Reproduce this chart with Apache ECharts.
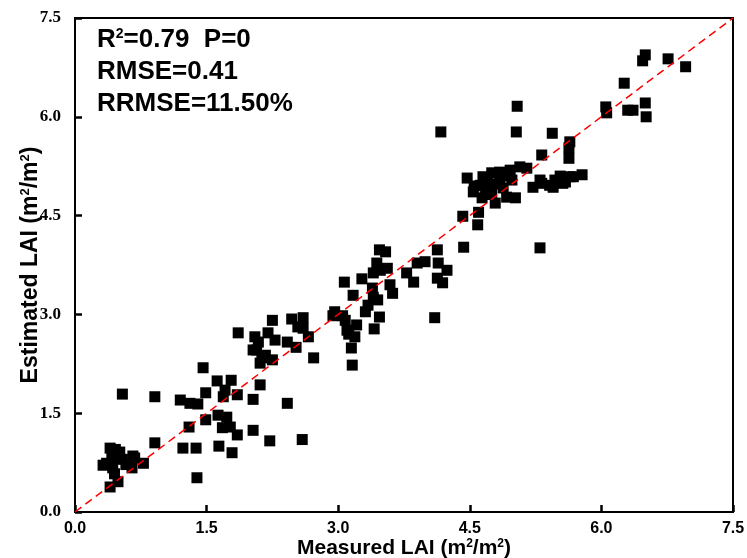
<!DOCTYPE html>
<html>
<head>
<meta charset="utf-8">
<script src="https://cdn.jsdelivr.net/npm/echarts@6/dist/echarts.min.js"></script>
<style>
html, body { margin: 0; padding: 0; background: #fff; }
#chart { width: 747px; height: 558px; }
</style>
</head>
<body>
<div id="chart"></div>
<script>
// measured vs estimated LAI
var measuredLAI = [
	0.40, 0.51, 0.36, 0.43, 0.66, 0.65, 0.78, 0.49, 0.40, 0.32, 0.42, 0.54, 0.68, 0.46, 0.58, 0.45,
	0.54, 0.91, 1.20, 1.31, 1.40, 1.49, 1.62, 1.78, 1.71, 1.69, 1.85, 2.11, 2.03, 2.42, 2.59,
	1.63, 1.73, 1.68, 1.77, 1.85, 1.49, 1.30, 0.91, 1.23, 1.38, 1.64, 1.79, 2.03, 2.22, 1.39,
	1.46, 1.86, 2.25, 2.47, 2.60, 2.54, 2.60, 2.66, 2.20, 2.28, 2.09, 2.07, 2.13, 2.17, 2.11,
	2.25, 2.42, 2.52, 2.72, 2.05, 2.03, 2.94, 3.08, 3.12, 3.15, 3.16, 2.96, 3.05, 3.21, 3.10,
	3.19, 3.47, 3.41, 3.07, 3.27, 3.17, 3.39, 3.40, 3.45, 3.34, 3.31, 3.59, 3.62, 3.44, 3.56,
	3.40, 3.48, 3.47, 3.54, 3.78, 3.86, 3.90, 3.99, 4.13, 4.14, 4.24, 4.13, 4.19, 4.10, 4.17,
	4.43, 5.30, 4.42, 4.59, 4.60, 4.47, 4.65, 4.75, 4.84, 4.96, 5.07, 5.15, 4.54, 4.62, 4.71,
	4.84, 4.98, 4.64, 4.79, 4.92, 5.02, 4.88, 5.22, 5.30, 5.41, 5.47, 5.59, 5.68, 5.78, 5.32,
	5.45, 5.56, 5.53, 5.64, 4.70, 4.80, 4.90, 4.68, 4.55, 4.75, 5.03, 5.04, 5.44, 5.64, 5.63,
	5.63, 5.32, 6.05, 6.06, 6.30, 6.36, 6.50, 6.51, 6.26, 6.50, 6.47, 6.76, 6.96
];
var estimatedLAI = [
	0.97, 0.91, 0.74, 0.67, 0.85, 0.67, 0.74, 0.46, 0.38, 0.71, 0.82, 0.80, 0.82, 0.95, 0.72, 0.58,
	1.79, 1.75, 1.70, 1.65, 1.64, 1.81, 1.99, 2.00, 1.85, 1.75, 1.78, 1.93, 1.71, 1.65, 1.10,
	1.47, 1.44, 1.28, 1.29, 1.17, 1.40, 1.29, 1.05, 0.97, 0.97, 1.00, 0.90, 1.24, 1.08, 0.52,
	2.19, 2.72, 2.91, 2.93, 2.95, 2.81, 2.79, 2.66, 2.72, 2.61, 2.58, 2.46, 2.34, 2.38, 2.26,
	2.31, 2.58, 2.50, 2.34, 2.66, 2.46, 2.98, 2.91, 2.70, 2.49, 2.23, 3.04, 2.98, 2.84, 2.76,
	2.66, 2.96, 2.78, 3.49, 3.54, 3.29, 3.40, 3.26, 3.22, 3.14, 3.04, 3.45, 3.32, 3.78, 3.70,
	3.63, 3.67, 3.98, 3.95, 3.63, 3.49, 3.78, 3.80, 3.98, 3.78, 3.67, 3.55, 3.48, 2.95, 5.77,
	4.02, 4.01, 4.49, 4.36, 4.55, 5.07, 5.09, 5.15, 5.16, 5.19, 5.24, 5.22, 4.86, 4.96, 4.93,
	5.04, 5.04, 4.77, 4.69, 4.78, 4.77, 4.92, 4.93, 5.04, 4.96, 5.04, 5.01, 5.09, 5.12, 4.99,
	4.93, 4.99, 5.10, 5.09, 5.05, 4.98, 5.10, 4.85, 4.95, 4.82, 5.77, 6.16, 5.75, 5.62, 5.53,
	5.37, 5.42, 6.15, 6.06, 6.10, 6.10, 6.21, 6.00, 6.51, 6.94, 6.85, 6.88, 6.76
];
var axisTicks = [0, 1.5, 3.0, 4.5, 6.0, 7.5];
var oneToOne = [[0, 0], [7.5, 7.5]];
var statLines = ['{a|R}{s|2}{a|=0.79  P=0}', '{a|RMSE=0.41}', '{a|RRMSE=11.50%}'];

var points = [];
for (var i = 0; i < measuredLAI.length; i++) {
	points.push([measuredLAI[i], estimatedLAI[i]]);
}

function nameRich(size) {
	return {
		a: { fontFamily: 'Liberation Sans, Arial', fontWeight: 'bold', fontSize: size, color: '#000' },
		s: { fontFamily: 'Liberation Sans, Arial', fontWeight: 'bold', fontSize: Math.round(size * 0.55), color: '#000', verticalAlign: 'top' }
	};
}

var myChart = echarts.init(document.getElementById('chart'));

var graphics = [];
for (var j = 0; j < statLines.length; j++) {
	graphics.push({
		type: 'text',
		left: 97,
		top: 27 + j * 32,
		style: {
			text: statLines[j],
			rich: {
				a: { fontFamily: 'Liberation Sans, Arial', fontWeight: 'bold', fontSize: 26, color: '#000' },
				s: { fontFamily: 'Liberation Sans, Arial', fontWeight: 'bold', fontSize: 14, color: '#000', verticalAlign: 'top' }
			}
		}
	});
}

var options = {
	backgroundColor: '#fff',
	animation: false,
	grid: {
		left: 75,
		right: 14,
		top: 18,
		bottom: 46,
		outerBoundsMode: 'none',
		show: true,
		borderColor: '#000',
		borderWidth: 2
	},
	xAxis: {
		type: 'value',
		min: axisTicks[0],
		max: axisTicks[axisTicks.length - 1],
		interval: 1.5,
		name: '{a|Measured LAI (m}{s|2}{a|/m}{s|2}{a|)}',
		nameLocation: 'middle',
		nameGap: 26,
		nameMoveOverlap: false,
		nameTextStyle: { rich: nameRich(21) },
		axisLine: { lineStyle: { color: '#000', width: 2 } },
		axisTick: { inside: true, length: 7, lineStyle: { color: '#000', width: 2.5 } },
		axisLabel: {
			margin: 9,
			fontFamily: 'Liberation Sans, Arial',
			fontWeight: 'bold',
			fontSize: 16,
			color: '#000',
			formatter: function(v) { return v.toFixed(1); }
		},
		splitLine: { show: false }
	},
	yAxis: {
		type: 'value',
		min: axisTicks[0],
		max: axisTicks[axisTicks.length - 1],
		interval: 1.5,
		name: '{a|Estimated LAI (m}{s|2}{a|/m}{s|2}{a|)}',
		nameLocation: 'middle',
		nameGap: 33,
		nameMoveOverlap: false,
		nameTextStyle: { rich: nameRich(23) },
		axisLine: { lineStyle: { color: '#000', width: 2 } },
		axisTick: { inside: true, length: 7, lineStyle: { color: '#000', width: 2.5 } },
		axisLabel: {
			margin: 14,
			fontFamily: 'Liberation Serif, Times New Roman',
			fontWeight: 'bold',
			fontSize: 17,
			color: '#000',
			formatter: function(v) { return v.toFixed(1); }
		},
		splitLine: { show: false }
	},
	graphic: graphics,
	series: [
		{
			type: 'scatter',
			data: points,
			symbol: 'rect',
			symbolSize: 11,
			itemStyle: { color: '#000', opacity: 1 },
			z: 2
		},
		{
			type: 'line',
			data: oneToOne,
			symbol: 'none',
			lineStyle: { color: '#ff0000', width: 1.5, type: [8, 5] },
			z: 3
		}
	]
};

myChart.setOption(options);
</script>
</body>
</html>
